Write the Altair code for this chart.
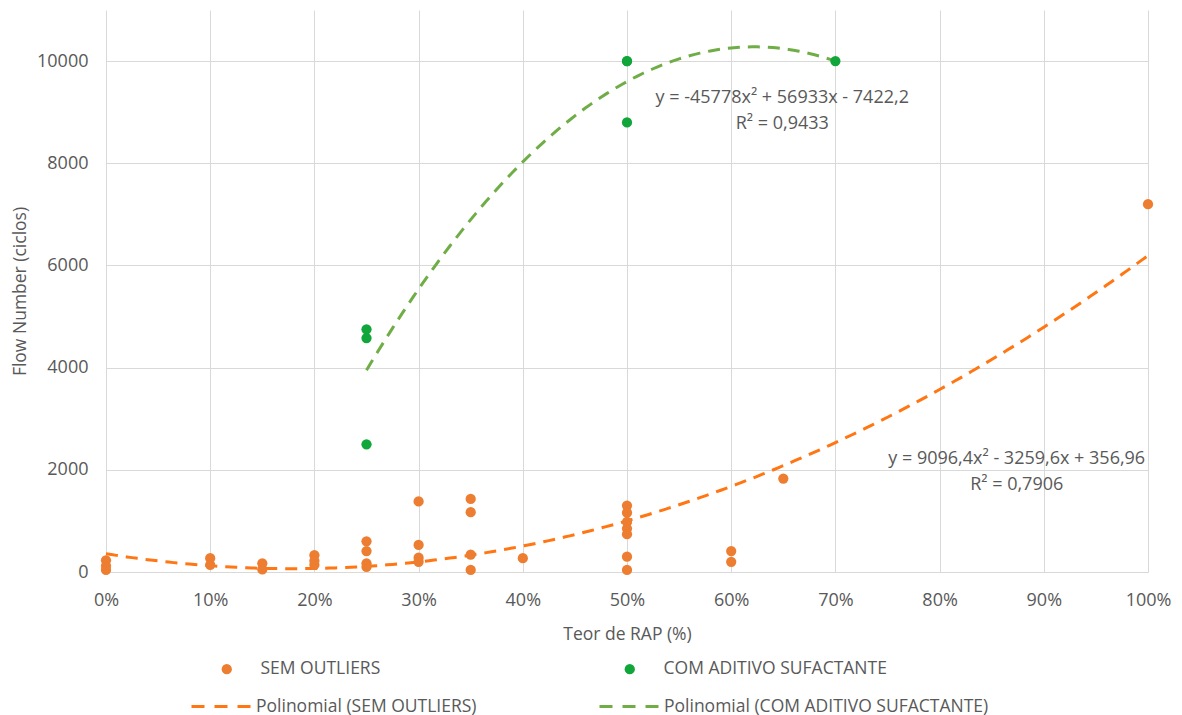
import altair as alt
import pandas as pd

# Teor de RAP (fraction) and Flow Number (cycles) per specimen
RAP_SEM = [0.00, 0.00, 0.00,
           0.10, 0.10,
           0.15, 0.15,
           0.20, 0.20, 0.20,
           0.25, 0.25, 0.25, 0.25,
           0.30, 0.30, 0.30, 0.30,
           0.35, 0.35, 0.35, 0.35,
           0.40,
           0.50, 0.50, 0.50, 0.50, 0.50, 0.50, 0.50,
           0.60, 0.60,
           0.65,
           1.00]
FN_SEM = [230, 120, 40,
          270, 140,
          170, 50,
          330, 220, 140,
          600, 410, 170, 100,
          1380, 530, 280, 200,
          1430, 1170, 340, 40,
          270,
          1300, 1160, 980, 850, 740, 300, 40,
          410, 200,
          1830,
          7200]

RAP_COM = [0.25, 0.25, 0.25, 0.50, 0.50, 0.50, 0.70]
FN_COM = [4750, 4580, 2500, 10000, 10000, 8800, 10000]

SERIES = ["SEM OUTLIERS", "COM ADITIVO SUFACTANTE"]
TRENDS = ["Polinomial (SEM OUTLIERS)", "Polinomial (COM ADITIVO SUFACTANTE)"]

# quadratic trendline coefficients [a, b, c] for y = a*x^2 + b*x + c, and x span
SEM_FIT = [9096.4, -3259.6, 356.96]
COM_FIT = [-45778, 56933, -7422.2]
SEM_SPAN = [0.0, 1.0]
COM_SPAN = [0.25, 0.70]

EQ_TEXT = ["y = 9096,4x² - 3259,6x + 356,96", "R² = 0,7906",
           "y = -45778x² + 56933x - 7422,2", "R² = 0,9433"]

X_TICKS = [0, 0.1, 0.2, 0.3, 0.4, 0.5, 0.6, 0.7, 0.8, 0.9, 1.0]
Y_TICKS = [0, 2000, 4000, 6000, 8000, 10000]

ORANGE = "#ED7D31"
GREEN = "#11A63A"
ORANGE_LINE = "#FF7612"
GREEN_LINE = "#70AD47"
TEXT = "#595959"
GRID = "#D9D9D9"
FONT = "Open Sans"
FS_AXIS = 18
FS_TITLE = 17.5
FS_LEGEND = 17.5
FS_EQ = 18

points_df = pd.DataFrame({
    "teor": RAP_SEM + RAP_COM,
    "fn": FN_SEM + FN_COM,
    "serie": [SERIES[0]] * len(RAP_SEM) + [SERIES[1]] * len(RAP_COM),
})

x_enc = alt.X("teor:Q",
              scale=alt.Scale(domain=[0, 1], nice=False),
              axis=alt.Axis(values=X_TICKS, format=".0%", title="Teor de RAP (%)",
                            grid=True, gridColor=GRID, domain=False, ticks=False,
                            labelFlush=False, labelPadding=19,
                            titleY=62, titleBaseline="middle"))
y_enc = alt.Y("fn:Q",
              scale=alt.Scale(domain=[0, 11000], nice=False),
              axis=alt.Axis(values=Y_TICKS, format="d", title="Flow Number (ciclos)",
                            grid=True, gridColor=GRID, domain=False, ticks=False,
                            labelPadding=18, titleX=-86, titleY=281,
                            titleBaseline="middle", titleAlign="center"))

stroke_scale = alt.Scale(domain=TRENDS, range=[ORANGE_LINE, GREEN_LINE])
stroke_legend = alt.Legend(title=None, orient="none", direction="horizontal",
                           legendX=84, legendY=665,
                           symbolType="stroke", symbolSize=3600,
                           symbolDash=[13, 10], symbolStrokeWidth=3,
                           labelOffset=3, columnPadding=116, labelLimit=600)


def trend(coefs, span, name):
    a, b, c = coefs
    return (
        alt.Chart(alt.sequence(span[0], span[1] + 1e-6, 0.005, as_="teor"))
        .transform_calculate(
            fn=f"{a}*datum.teor*datum.teor + ({b})*datum.teor + ({c})",
            serie=f"'{name}'",
        )
        .mark_line(strokeDash=[12, 8], strokeWidth=3)
        .encode(x=x_enc, y=y_enc,
                stroke=alt.Stroke("serie:N", scale=stroke_scale, legend=stroke_legend))
    )


sem_trend = trend(SEM_FIT, SEM_SPAN, TRENDS[0])
com_trend = trend(COM_FIT, COM_SPAN, TRENDS[1])

points = alt.Chart(points_df).mark_circle(size=105, opacity=1).encode(
    x=x_enc, y=y_enc,
    fill=alt.Fill("serie:N",
                  scale=alt.Scale(domain=SERIES, range=[ORANGE, GREEN]),
                  legend=alt.Legend(title=None, orient="none", direction="horizontal",
                                    legendX=112, legendY=650,
                                    symbolType="circle", symbolSize=105, symbolStrokeWidth=0,
                                    labelOffset=25, columnPadding=240, labelLimit=600)),
)

labels_df = pd.DataFrame({
    "teor": [0.874, 0.874, 0.649, 0.649],
    "fn": [2207, 1699, 9277, 8769],
    "txt": EQ_TEXT,
})
labels = alt.Chart(labels_df).mark_text(fontSize=FS_EQ, color=TEXT, font=FONT, align="center",
                                        baseline="middle").encode(
    x=alt.X("teor:Q", scale=alt.Scale(domain=[0, 1], nice=False)),
    y=alt.Y("fn:Q", scale=alt.Scale(domain=[0, 11000], nice=False)),
    text="txt:N",
)

chart = (
    alt.layer(sem_trend, com_trend, points, labels)
    .properties(width=1042, height=562,
                padding={"left": 106, "top": 10, "right": 34, "bottom": 143},
                autosize=alt.AutoSizeParams(type="none"))
    .configure(font=FONT)
    .configure_view(stroke=None)
    .configure_axis(labelFont=FONT, titleFont=FONT, labelFontSize=FS_AXIS,
                    titleFontSize=FS_TITLE, labelColor=TEXT, titleColor=TEXT,
                    titleFontWeight="normal")
    .configure_legend(labelFont=FONT, labelFontSize=FS_LEGEND, labelColor=TEXT)
)

chart.save("out.html", embed_options={"renderer": "svg", "actions": False})
